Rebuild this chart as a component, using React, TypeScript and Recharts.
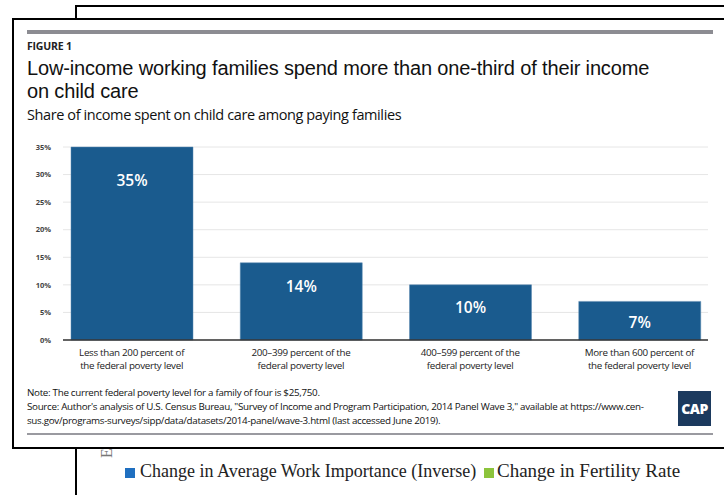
import React from "react";
import { Bar, BarChart, CartesianGrid, LabelList, XAxis, YAxis } from "recharts";

const categories = [
  ["Less than 200 percent of", "the federal poverty level"],
  ["200–399 percent of the", "federal poverty level"],
  ["400–599 percent of the", "federal poverty level"],
  ["More than 600 percent of", "the federal poverty level"],
];
const shares = [35, 14, 10, 7];
const yTicks = [0, 5, 10, 15, 20, 25, 30, 35];

const data = categories.map((lines, i) => ({ key: lines.join(" "), share: shares[i] }));

const sans = "'Open Sans', 'Noto Sans', sans-serif";
const serif = "'Liberation Serif', serif";
const barColor = "#1a5b8e";

function CategoryTick(props: any) {
  const { x, y, payload } = props;
  const lines = categories[payload.index] || [];
  return (
    <text x={x} y={y} textAnchor="middle" fill="#222" fontSize={9.8} fontFamily={sans} letterSpacing={-0.3}>
      {lines.map((l, i) => (
        <tspan key={i} x={x} dy={i === 0 ? 8 : 13}>{l}</tspan>
      ))}
    </text>
  );
}

// value label inside the top of each bar; taller bars get a little more room
function ValueLabel(props: any) {
  const { x, y, width, height, value } = props;
  const dy = 17 + height * 0.085;
  return (
    <text x={x + width / 2} y={y + dy} textAnchor="middle" dominantBaseline="central" fill="#fff" fontSize={15.5} fontWeight={600} fontFamily={sans}>
      {`${value}%`}
    </text>
  );
}

const titleStyle: React.CSSProperties = {
  position: "absolute", left: 13, fontSize: 20, color: "#111", lineHeight: "22px", letterSpacing: -0.15,
  fontFamily: "'Liberation Sans', Arial, sans-serif", whiteSpace: "nowrap",
};

export default function App() {
  return (
    <div style={{ position: "absolute", left: 0, top: 0, width: 724, height: 495, overflow: "hidden", background: "#fff", fontFamily: sans }}>
      {/* the page peeking out behind the figure */}
      <div style={{ position: "absolute", left: 75, top: 5, width: 700, height: 520, borderLeft: "2.5px solid #000", borderTop: "2.5px solid #000" }} />
      <svg style={{ position: "absolute", left: 0, top: 0 }} width={724} height={495}>
        <text x={112} y={458} transform="rotate(-90 112 458)" fontFamily={serif} fontSize={16} fill="#777">Ev</text>
      </svg>
      <div style={{ position: "absolute", left: 125, top: 468, width: 10, height: 10, background: "#1f6fc0" }} />
      <div style={{ position: "absolute", left: 140, top: 461, fontFamily: serif, fontSize: 18, color: "#222", whiteSpace: "nowrap" }}>
        Change in Average Work Importance (Inverse)
      </div>
      <div style={{ position: "absolute", left: 484, top: 468, width: 10, height: 10, background: "#8cc43c" }} />
      <div style={{ position: "absolute", left: 497, top: 460, fontFamily: serif, fontSize: 19, color: "#222", whiteSpace: "nowrap" }}>
        Change in Fertility Rate
      </div>

      {/* figure card */}
      <div style={{ position: "absolute", left: 12, top: 18, width: 740, height: 431, border: "2.5px solid #000", background: "#fff", boxSizing: "border-box" }}>
        <div style={{ position: "absolute", left: 13, top: 10, width: 686, height: 4, background: "#8c8c92" }} />
        <div style={{ position: "absolute", left: 13, top: 19, fontSize: 10.5, fontWeight: 700, color: "#222", letterSpacing: -0.2 }}>FIGURE 1</div>
        <div style={{ ...titleStyle, top: 37 }}>Low-income working families spend more than one-third of their income</div>
        <div style={{ ...titleStyle, top: 60 }}>on child care</div>
        <div style={{ position: "absolute", left: 13, top: 85, fontSize: 14.5, color: "#111", letterSpacing: -0.4 }}>
          Share of income spent on child care among paying families
        </div>

        <div style={{ position: "absolute", left: -14, top: 110 }}>
          <BarChart width={724} height={250} data={data} margin={{ top: 17, right: 16, left: 0, bottom: 0 }} barSize={122}>
            <CartesianGrid vertical={false} stroke="#e6e6e6" />
            <XAxis
              dataKey="key"
              height={40}
              axisLine={{ stroke: "#333", strokeWidth: 1.5 }}
              tickLine={false}
              tick={<CategoryTick />}
              interval={0}
              padding={{ left: -16, right: -16 }}
            />
            <YAxis
              width={63}
              domain={[0, 35]}
              ticks={yTicks}
              tickFormatter={(v) => `${v}%`}
              axisLine={false}
              tickLine={false}
              tickSize={0}
              tickMargin={12}
              tick={{ fontSize: 7.5, fontWeight: 700, fill: "#444", fontFamily: sans }}
            />
            <Bar dataKey="share" fill={barColor} stroke="#5a88b0" strokeWidth={0.5} isAnimationActive={false}>
              <LabelList dataKey="share" content={<ValueLabel />} />
            </Bar>
          </BarChart>
        </div>

        <div style={{ position: "absolute", left: 13, top: 366, fontSize: 9.8, color: "#111", lineHeight: "14px", letterSpacing: -0.3, width: 650 }}>
          Note: The current federal poverty level for a family of four is $25,750.<br />
          Source: Author's analysis of U.S. Census Bureau, "Survey of Income and Program Participation, 2014 Panel Wave 3," available at https://www.cen-<br />
          sus.gov/programs-surveys/sipp/data/datasets/2014-panel/wave-3.html (last accessed June 2019).
        </div>
        <div style={{ position: "absolute", left: 664, top: 371, width: 33, height: 35, background: "#1c3a5e", color: "#fff", fontWeight: 800, fontSize: 14, display: "flex", alignItems: "center", justifyContent: "center", letterSpacing: -0.5 }}>
          CAP
        </div>
        <div style={{ position: "absolute", left: 13, top: 413, width: 686, height: 2, background: "#9a9aa0" }} />
      </div>
    </div>
  );
}
